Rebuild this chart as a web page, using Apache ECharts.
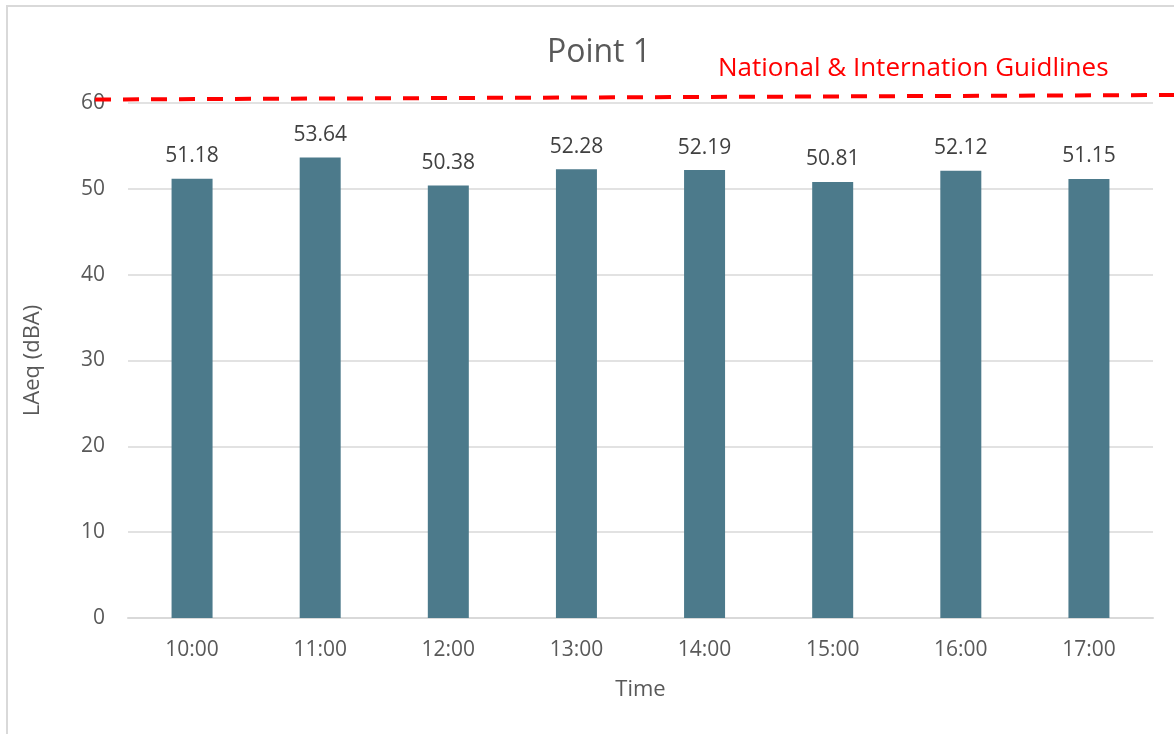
<!DOCTYPE html>
<html>
<head>
<meta charset="utf-8">
<script src="https://cdn.jsdelivr.net/npm/echarts@6/dist/echarts.min.js"></script>
<style>
  html, body { margin: 0; padding: 0; background: #ffffff; }
  #chart { width: 1174px; height: 734px; }
</style>
</head>
<body>
<div id="chart"></div>
<script>
// Hourly equivalent noise level at Point 1
const times = ['10:00', '11:00', '12:00', '13:00', '14:00', '15:00', '16:00', '17:00'];
const laeq = [51.18, 53.64, 50.38, 52.28, 52.19, 50.81, 52.12, 51.15];
const yTicks = [0, 10, 20, 30, 40, 50, 60];
const guidelineLimit = 60;
const guidelineText = 'National & Internation Guidlines';

const FONT = '"Open Sans", "Noto Sans", sans-serif';
const chart = echarts.init(document.getElementById('chart'));

chart.setOption({
  animation: false,
  title: {
    text: 'Point 1',
    left: 594,
    top: 32,
    textAlign: 'center',
    textStyle: { fontFamily: FONT, fontSize: 32, fontWeight: 'normal', color: '#595959' }
  },
  grid: { left: 128, right: 21, top: 103, bottom: 116 },
  xAxis: {
    type: 'category',
    data: times,
    name: 'Time',
    nameLocation: 'middle',
    nameGap: 61,
    nameTextStyle: { fontFamily: FONT, fontSize: 22, color: '#595959' },
    axisLine: { show: true, lineStyle: { color: '#d9d9d9', width: 2 } },
    axisTick: { show: false },
    axisLabel: { fontFamily: FONT, fontSize: 21, color: '#595959', margin: 22 }
  },
  yAxis: {
    type: 'value',
    min: yTicks[0],
    max: yTicks[yTicks.length - 1],
    interval: 10,
    name: 'LAeq (dBA)',
    nameLocation: 'middle',
    nameGap: 84,
    nameRotate: 90,
    nameTextStyle: { fontFamily: FONT, fontSize: 22, color: '#595959' },
    axisLine: { show: false },
    axisTick: { show: false },
    axisLabel: { fontFamily: FONT, fontSize: 21, color: '#595959', margin: 23 },
    splitLine: { lineStyle: { color: '#d9d9d9', width: 1.5 } }
  },
  series: [{
    type: 'bar',
    data: laeq,
    barWidth: '32%',
    itemStyle: { color: '#4c7a8b' },
    label: {
      show: true,
      position: 'top',
      distance: 12,
      fontFamily: FONT,
      fontSize: 21,
      color: '#404040',
      formatter: p => p.value.toFixed(2)
    }
  }]
});

// Guideline annotation drawn relative to the 60 dBA level on the y scale
const yLimit = chart.convertToPixel({ yAxisIndex: 0 }, guidelineLimit);
chart.setOption({
  graphic: [
    {
      type: 'polyline',
      shape: { points: [[7, 734], [7, 6], [1174, 6]] },
      style: { stroke: '#d9d9d9', lineWidth: 2, fill: null },
      silent: true
    },
    {
      type: 'line',
      shape: { x1: 95, y1: yLimit - 3.5, x2: 1174, y2: yLimit - 8 },
      style: { stroke: '#ff0000', lineWidth: 4, lineDash: [16, 12] },
      z: 10,
      silent: true
    },
    {
      type: 'text',
      left: 718,
      top: yLimit - 47,
      style: { text: guidelineText, font: '26px ' + FONT, fill: '#ff0000' },
      silent: true
    }
  ]
});
</script>
</body>
</html>
